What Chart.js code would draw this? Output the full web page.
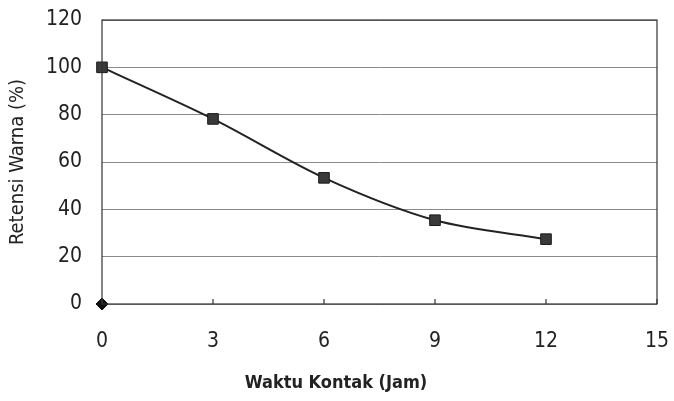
<!DOCTYPE html>
<html>
<head>
<meta charset="utf-8">
<script src="https://cdn.jsdelivr.net/npm/chart.js@4"></script>
<style>
  html, body { margin: 0; padding: 0; background: #fff; }
  #wrap { width: 674px; height: 401px; }
</style>
</head>
<body>
<div id="wrap"><canvas id="retensiChart" width="674" height="401"></canvas></div>
<script>
// Retensi warna vs waktu kontak
const waktuJam = [0, 3, 6, 9, 12];
const retensiPersen = [100, 78.2, 53.3, 35.4, 27.4];
const titikNolX = [0];
const titikNolY = [0];
const xTicks = [0, 3, 6, 9, 12, 15];
const yTicks = [0, 20, 40, 60, 80, 100, 120];
const xTitle = "Waktu Kontak (Jam)";

const fontFam = "'DejaVu Sans Condensed', 'Liberation Sans Narrow', 'Liberation Sans', Arial, sans-serif";

// frame, inner tick marks on x axis, and x-axis title
const framePlugin = {
  id: "frame",
  afterDatasetsDraw(chart) {
    const { ctx, chartArea, scales } = chart;
    ctx.save();
    ctx.strokeStyle = "#333";
    ctx.lineWidth = 1.2;
    ctx.strokeRect(chartArea.left, chartArea.top, chartArea.right - chartArea.left, chartArea.bottom - chartArea.top);
    xTicks.forEach((v) => {
      const px = scales.x.getPixelForValue(v);
      ctx.beginPath();
      ctx.moveTo(px, chartArea.bottom);
      ctx.lineTo(px, chartArea.bottom - 5);
      ctx.stroke();
    });
    ctx.fillStyle = "#222";
    ctx.font = "bold 18px " + fontFam;
    ctx.textAlign = "center";
    ctx.textBaseline = "middle";
    ctx.fillText(xTitle, 336, 383);
    ctx.restore();
  },
};

const ctx = document.getElementById("retensiChart").getContext("2d");
new Chart(ctx, {
  type: "line",
  data: {
    datasets: [
      {
        label: "Retensi",
        data: waktuJam.map((x, i) => ({ x: x, y: retensiPersen[i] })),
        borderColor: "#222",
        borderWidth: 2,
        backgroundColor: "#3a3a3a",
        pointStyle: "rect",
        pointRadius: 7.5,
        pointBorderColor: "#1a1a1a",
        pointBorderWidth: 1,
        tension: 0.3,
        fill: false,
        clip: false,
      },
      {
        label: "Nol",
        data: titikNolX.map((x, i) => ({ x: x, y: titikNolY[i] })),
        showLine: false,
        pointStyle: "rectRot",
        pointRadius: 6,
        backgroundColor: "#111",
        borderColor: "#111",
        clip: false,
      },
    ],
  },
  options: {
    responsive: false,
    animation: false,
    layout: { padding: { top: 20, right: 17, left: 0, bottom: 0 } },
    plugins: {
      legend: { display: false },
      tooltip: { enabled: false },
    },
    scales: {
      x: {
        type: "linear",
        min: 0,
        max: 15,
        afterBuildTicks(scale) {
          scale.ticks = xTicks.map((v) => ({ value: v }));
        },
        afterFit(scale) {
          scale.height = 97;
          scale.paddingLeft = 0;
          scale.paddingRight = 0;
        },
        grid: { display: false, drawTicks: false },
        border: { display: false },
        ticks: {
          color: "#222",
          padding: 25,
          font: { family: fontFam, size: 21 },
        },
      },
      y: {
        min: 0,
        max: 120,
        afterBuildTicks(scale) {
          scale.ticks = yTicks.map((v) => ({ value: v }));
        },
        afterFit(scale) {
          scale.width = 102;
          scale.paddingTop = 0;
          scale.paddingBottom = 0;
        },
        grid: { color: "#8a8a8a", lineWidth: 1, drawTicks: false },
        border: { display: false },
        ticks: {
          color: "#222",
          padding: 20,
          font: { family: fontFam, size: 21 },
        },
        title: {
          display: true,
          text: "Retensi Warna (%)",
          color: "#222",
          padding: { top: 6, bottom: 4 },
          font: { family: fontFam, size: 20 },
        },
      },
    },
  },
  plugins: [framePlugin],
});
</script>
</body>
</html>
